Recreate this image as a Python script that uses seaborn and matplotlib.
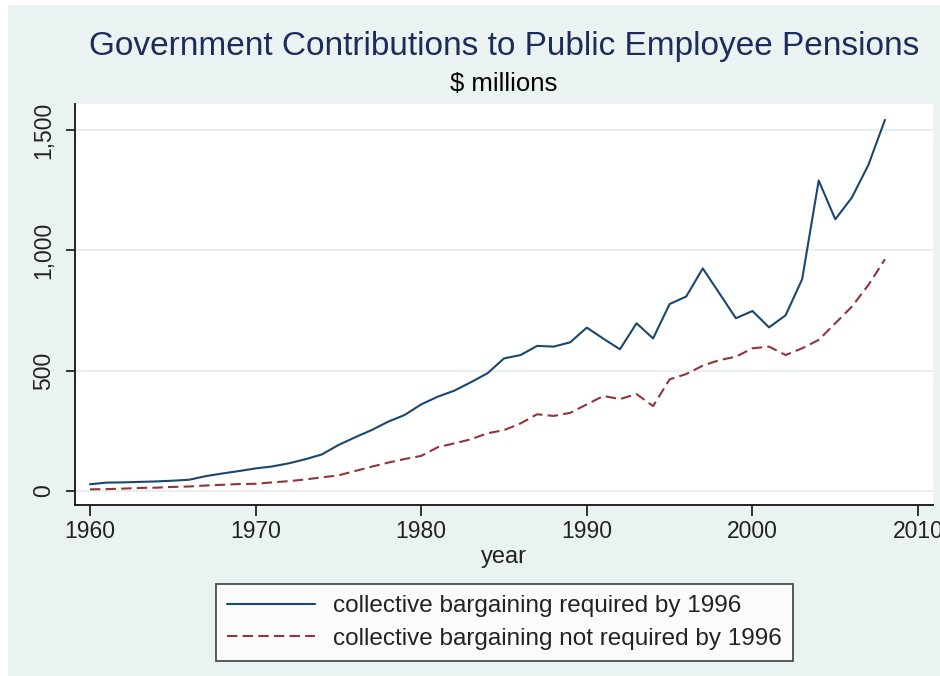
import pandas as pd
import seaborn as sns
import matplotlib.pyplot as plt
from matplotlib.patches import Rectangle
from matplotlib.ticker import FuncFormatter

# Data ($ millions)
years = list(range(1960, 2009))
required = [28, 35, 36, 38, 40, 43, 47, 62, 73, 83,
            94, 102, 115, 132, 152, 191, 223, 253, 288, 316,
            360, 392, 417, 452, 489, 551, 565, 603, 600, 618,
            679, 633, 589, 697, 634, 777, 808, 925, 822, 718,
            748, 680, 730, 880, 1290, 1129, 1219, 1355, 1542]
not_required = [7, 8, 10, 13, 14, 17, 19, 23, 26, 29,
                30, 36, 41, 48, 57, 65, 83, 101, 118, 133,
                146, 182, 198, 215, 240, 253, 281, 319, 312, 325,
                360, 395, 382, 403, 353, 464, 486, 521, 544, 558,
                593, 600, 565, 593, 628, 697, 766, 856, 963]
labels = ["collective bargaining required by 1996",
          "collective bargaining not required by 1996"]

df = pd.DataFrame({
    "year": years * 2,
    "value": required + not_required,
    "group": [labels[0]] * len(years) + [labels[1]] * len(years),
})

sns.set_style("white")
plt.rcParams["font.family"] = ["Liberation Sans", "DejaVu Sans"]

bg = "#eaf2f2"
fig = plt.figure(figsize=(9.4, 6.76), dpi=100)
fig.patch.set_facecolor("white")
# chart region (leaves the thin white margin at top/left)
fig.patches.append(Rectangle((8 / 940, 0), 1 - 8 / 940, 1 - 5 / 676,
                             transform=fig.transFigure, facecolor=bg,
                             edgecolor="none", zorder=-10))

ax = fig.add_axes([75 / 940, 1 - 505 / 676, 858 / 940, 401 / 676])
ax.set_facecolor("white")

sns.lineplot(data=df, x="year", y="value", hue="group", style="group",
             palette=["#1a476f", "#90353b"],
             dashes={labels[0]: "", labels[1]: (5, 2.5)},
             linewidth=1.5, ax=ax)

ax.set_xlim(1959.1, 2010.9)
ax.set_ylim(-58, 1608)
ax.set_xticks([1960, 1970, 1980, 1990, 2000, 2010])
ax.set_yticks([0, 500, 1000, 1500])
ax.yaxis.set_major_formatter(FuncFormatter(lambda v, p: f"{int(v):,}"))
ax.grid(axis="y", color="#e6eeee", linewidth=1.3)
ax.set_axisbelow(True)

for s in ["top", "right"]:
    ax.spines[s].set_visible(False)
for s in ["left", "bottom"]:
    ax.spines[s].set_color("#222222")
    ax.spines[s].set_linewidth(1.4)

ax.tick_params(axis="x", length=8, width=1.3, color="#222222",
               labelsize=16.5, pad=3, bottom=True, labelcolor="#222222")
ax.tick_params(axis="y", length=6.5, width=1.3, color="#222222",
               labelsize=16.5, pad=8, left=True, labelcolor="#222222")
for t in ax.get_yticklabels():
    t.set_rotation(90)
    t.set_va("center")

ax.set_xlabel("year", fontsize=17, labelpad=2, color="#222222")
ax.set_ylabel("")

fig.text(504 / 940, 1 - 55 / 676, "Government Contributions to Public Employee Pensions",
         ha="center", va="baseline", fontsize=24, color="#1e2c5a")
fig.text(504 / 940, 1 - 91 / 676, "$ millions", ha="center", va="baseline",
         fontsize=18.5, color="black")

ax.legend_.remove()
handles, _ = ax.get_legend_handles_labels()
leg = fig.legend(handles[-2:], labels, loc="center",
                 bbox_to_anchor=(504.5 / 940, 1 - 622.5 / 676),
                 fontsize=17.5, frameon=True, fancybox=False,
                 handlelength=3.6, handletextpad=0.75, borderpad=0.45,
                 labelspacing=0.42, borderaxespad=0)
leg.get_frame().set_edgecolor("#222222")
leg.get_frame().set_linewidth(1.3)
for t in leg.get_texts():
    t.set_color("#222222")

fig.savefig("out.png", dpi=100, facecolor=fig.get_facecolor())
